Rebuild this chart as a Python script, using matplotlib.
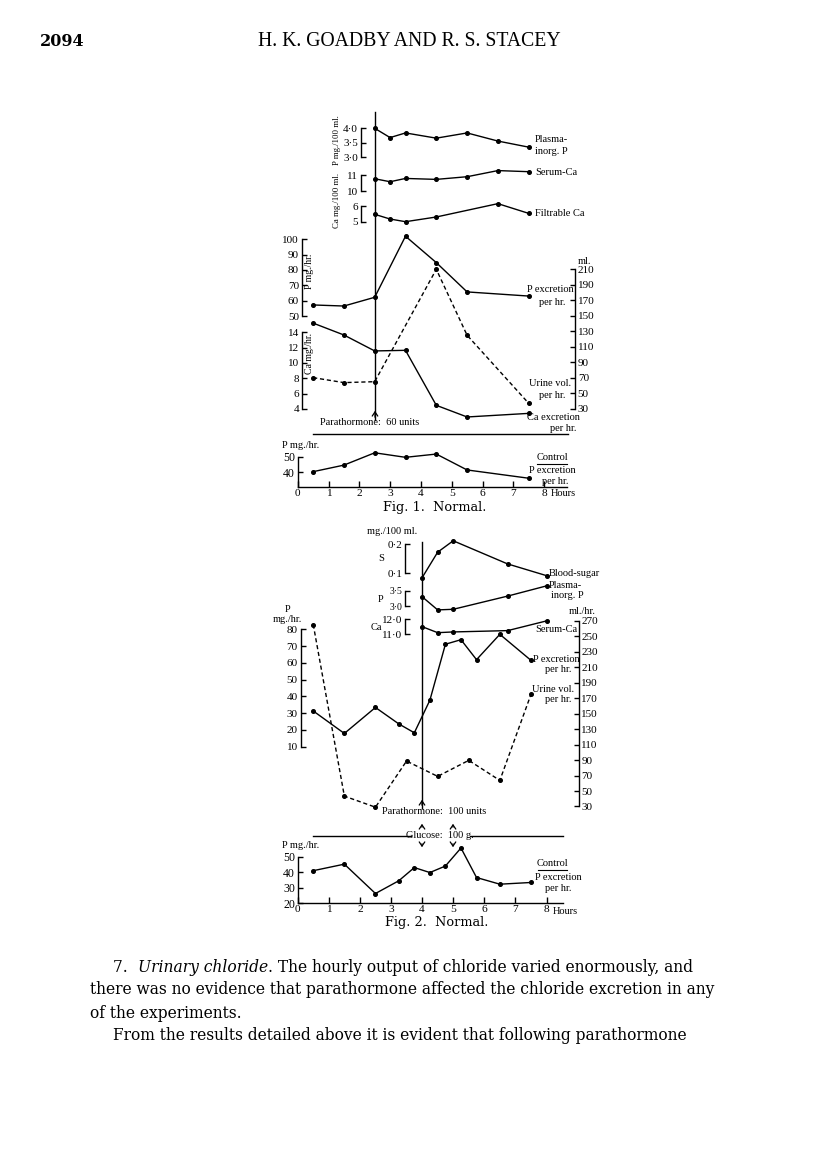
import matplotlib
matplotlib.use("Agg")
import matplotlib.pyplot as plt
from matplotlib.lines import Line2D
from matplotlib.patches import FancyArrowPatch

SERIF = ["Liberation Serif", "DejaVu Serif"]
BODY = ["DejaVu Serif"]
W, H = 816, 1167

# ---------------- Fig. 1 data ----------------
f1_blood_hours = [2.5, 3, 3.5, 4.5, 5.5, 6.5, 7.5]
f1_plasma_p = [4.0, 3.68, 3.84, 3.66, 3.84, 3.56, 3.35]
f1_serum_ca = [10.78, 10.59, 10.80, 10.74, 10.91, 11.30, 11.23]
f1_filt_hours = [2.5, 3, 3.5, 4.5, 6.5, 7.5]
f1_filt_ca = [5.47, 5.17, 5.00, 5.30, 6.15, 5.53]

f1_urine_hours = [0.5, 1.5, 2.5, 3.5, 4.5, 5.5, 7.5]
f1_p_excr = [57.2, 56.5, 62.2, 102.0, 84.8, 65.7, 63.0]
f1_ca_excr = [15.2, 13.65, 11.57, 11.65, 4.48, 2.96, 3.43]
f1_uv_hours = [0.5, 1.5, 2.5, 4.5, 5.5, 7.5]
f1_urine_vol = [70.4, 64.0, 65.2, 210.0, 125.0, 37.3]

f1_ctrl_hours = [0.5, 1.5, 2.5, 3.5, 4.5, 5.5, 7.5]
f1_ctrl_p = [40.4, 44.6, 52.5, 49.6, 51.7, 41.5, 36.2]

# ---------------- Fig. 2 data ----------------
f2_blood_hours = [4, 4.5, 5, 6.75, 8]
f2_blood_sugar = [0.085, 0.172, 0.211, 0.132, 0.092]
f2_plasma_p = [3.31, 2.87, 2.89, 3.33, 3.67]
f2_serum_ca = [11.5, 11.09, 11.14, 11.23, 11.89]

f2_p_hours = [0.5, 1.5, 2.5, 3.25, 3.75, 4.25, 4.75, 5.25, 5.75, 6.5, 7.5]
f2_p_excr = [31.3, 17.9, 33.4, 23.6, 18.3, 37.7, 71.1, 73.8, 61.9, 77.0, 61.5]
f2_uv_hours = [0.5, 1.5, 2.5, 3.5, 4.5, 5.5, 6.5, 7.5]
f2_urine_vol = [265.0, 43.4, 29.1, 88.7, 68.9, 89.6, 63.7, 174.7]

f2_ctrl_hours = [0.5, 1.5, 2.5, 3.25, 3.75, 4.25, 4.75, 5.25, 5.75, 6.5, 7.5]
f2_ctrl_p = [41.0, 45.2, 26.3, 34.5, 43.0, 39.8, 44.0, 55.6, 36.6, 32.3, 33.4]

hour_ticks = [0, 1, 2, 3, 4, 5, 6, 7, 8]

fig = plt.figure(figsize=(W / 100, H / 100), dpi=100)
renderer = fig.canvas.get_renderer()


def fx(px):
    return px / W


def fy(py):
    return 1 - py / H


def txt(x, y, s, ha="left", va="center", size=7.5, **kw):
    kw.setdefault("family", SERIF)
    return fig.text(fx(x), fy(y), s, ha=ha, va=va, fontsize=size, **kw)


def hline(x0, x1, y, lw=1.0):
    fig.add_artist(Line2D([fx(x0), fx(x1)], [fy(y), fy(y)], color="k", lw=lw))


def vline(x, y0, y1, lw=1.0):
    fig.add_artist(Line2D([fx(x), fx(x)], [fy(y0), fy(y1)], color="k", lw=lw))


def arrow(x, ytail, yhead):
    fig.add_artist(FancyArrowPatch(
        (fx(x), fy(ytail)), (fx(x), fy(yhead)), transform=fig.transFigure,
        arrowstyle="->,head_length=3,head_width=2", lw=0.9, color="k",
        mutation_scale=1))


def panel(hx, ymap, ybox, xbox=(240, 620)):
    px0, ppu = hx
    (v1, p1), (v2, p2) = ymap
    top, bot = ybox
    ax = fig.add_axes([fx(xbox[0]), fy(bot), (xbox[1] - xbox[0]) / W, (bot - top) / H])
    ax.set_xlim((xbox[0] - px0) / ppu, (xbox[1] - px0) / ppu)
    s = (p2 - p1) / (v2 - v1)
    ax.set_ylim(v1 + (bot - p1) / s, v1 + (top - p1) / s)
    ax.patch.set_visible(False)
    for sp in ax.spines.values():
        sp.set_visible(False)
    ax.set_xticks([])
    ax.set_yticks([])
    return ax


def yaxis(ax, side, hpos, lo, hi, ticks, labels, size=8, length=3.5):
    sp = ax.spines[side]
    sp.set_visible(True)
    sp.set_position(("data", hpos))
    sp.set_bounds(lo, hi)
    sp.set_linewidth(1.0)
    if side == "right":
        ax.yaxis.tick_right()
    ax.set_yticks(ticks)
    ax.set_yticklabels(labels, fontsize=size, family=SERIF)
    ax.tick_params(axis="y", direction="in", length=length, width=1.0, pad=2)


def xaxis(ax, right, size=8.2):
    sp = ax.spines["bottom"]
    sp.set_visible(True)
    sp.set_bounds(0, right)
    sp.set_linewidth(1.0)
    ax.set_xticks(hour_ticks)
    ax.set_xticklabels([str(h) for h in hour_ticks], fontsize=size, family=SERIF)
    ax.tick_params(axis="x", direction="in", length=4, width=1.0, pad=1.5)


def plot(ax, x, y, dashed=False):
    ax.plot(x, y, color="k", lw=1.0, marker="o", ms=2.6,
            ls=(0, (3, 2)) if dashed else "-", clip_on=False)


# =============== header ===============
txt(40, 41, "2094", size=11.5, weight="bold", family=BODY)
txt(409, 41, "H. K. GOADBY AND R. S. STACEY", ha="center", size=14.2)

# =============== FIG 1 ===============
X1 = (297.7, 30.8)

ax = panel(X1, ((4.0, 128.3), (3.0, 157.3)), (110, 165))
yaxis(ax, "left", 2.05, 3.0, 4.0, [3.0, 3.5, 4.0], ["3·0", "3·5", "4·0"])
plot(ax, f1_blood_hours, f1_plasma_p)
ax = panel(X1, ((11, 175.3), (10, 191.0)), (165, 198))
yaxis(ax, "left", 2.05, 10, 11, [10, 11], ["10", "11"])
plot(ax, f1_blood_hours, f1_serum_ca)
ax = panel(X1, ((6, 206.0), (5, 221.7)), (198, 230))
yaxis(ax, "left", 2.05, 5, 6, [5, 6], ["5", "6"])
plot(ax, f1_filt_hours, f1_filt_ca)

txt(337, 140, "P mg./100 ml.", ha="center", rotation=90, size=6.3)
txt(337, 200, "Ca mg./100 ml.", ha="center", rotation=90, size=6.3)
txt(535, 140, "Plasma-")
txt(535, 151.5, "inorg. P")
txt(535, 172, "Serum-Ca")
txt(535, 213.5, "Filtrable Ca")

ax_p = panel(X1, ((100, 239.3), (50, 316.0)), (235, 420))
yaxis(ax_p, "left", 0.13, 50, 100, [50, 60, 70, 80, 90, 100],
      ["50", "60", "70", "80", "90", "100"])
plot(ax_p, f1_urine_hours, f1_p_excr)
ax_ca = panel(X1, ((14, 332.3), (4, 409.0)), (235, 420))
yaxis(ax_ca, "left", 0.13, 4, 14, [4, 6, 8, 10, 12, 14],
      ["4", "6", "8", "10", "12", "14"])
plot(ax_ca, f1_urine_hours, f1_ca_excr)
ax_v = panel(X1, ((210, 269.3), (30, 409.0)), (235, 420))
yaxis(ax_v, "right", (575 - 297.7) / 30.8, 30, 210, list(range(30, 211, 20)),
      [str(v) for v in range(30, 211, 20)])
plot(ax_v, f1_uv_hours, f1_urine_vol, dashed=True)

txt(309.5, 271, "P mg./hr.", ha="center", rotation=90, size=7)
txt(309.5, 353, "Ca mg./hr.", ha="center", rotation=90, size=7)
txt(584, 261.5, "ml.", ha="center")
txt(550, 289.5, "P excretion", ha="center")
txt(552, 302.5, "per hr.", ha="center")
txt(550, 384, "Urine vol.", ha="center")
txt(552, 395.5, "per hr.", ha="center")
txt(553, 418, "Ca excretion", ha="center")
txt(563, 428.5, "per hr.", ha="center")

vline(375, 112, 420)
arrow(375, 420, 408)
txt(370, 423, "Parathormone:  60 units", ha="center")
hline(312.7, 568, 434)

ax = panel(X1, ((50, 456.7), (40, 472.3)), (440, 486.7))
yaxis(ax, "left", 0, ax.get_ylim()[0], 50, [40, 50], ["40", "50"], size=8.5)
xaxis(ax, 8.73)
plot(ax, f1_ctrl_hours, f1_ctrl_p)
txt(281.5, 445.5, "P mg./hr.")
txt(551, 494, "Hours")
txt(552, 457.5, "Control", ha="center")
hline(537, 567, 463.5, lw=0.8)
txt(552, 470.5, "P excretion", ha="center")
txt(555, 481.5, "per hr.", ha="center")
txt(435, 508, "Fig. 1.  Normal.", ha="center", size=9.3, family=BODY)

# =============== FIG 2 ===============
X2 = (297.7, 31.1)
SX = (405 - 297.7) / 31.1

ax = panel(X2, ((0.2, 544.0), (0.1, 573.3)), (538, 580))
yaxis(ax, "left", SX, 0.1, 0.2, [0.1, 0.2], ["0·1", "0·2"])
plot(ax, f2_blood_hours, f2_blood_sugar)
ax = panel(X2, ((3.5, 591.0), (3.0, 606.0)), (580, 612))
yaxis(ax, "left", SX, 3.0, 3.5, [3.0, 3.5], ["3·0", "3·5"], size=7)
plot(ax, f2_blood_hours, f2_plasma_p)
ax = panel(X2, ((12.0, 619.3), (11.0, 634.0)), (612, 640))
yaxis(ax, "left", SX, 11.0, 12.0, [11.0, 12.0], ["11·0", "12·0"])
plot(ax, f2_blood_hours, f2_serum_ca)

txt(392, 531.5, "mg./100 ml.", ha="center")
txt(381, 558, "S", ha="center")
txt(381, 599.5, "P", ha="center")
txt(376, 627, "Ca", ha="center")
txt(549, 573.5, "Blood-sugar")
txt(549, 585.5, "Plasma-")
txt(551, 595.5, "inorg. P")
txt(556, 630, "Serum-Ca", ha="center")
txt(582, 611.5, "ml./hr.", ha="center")

ax_p2 = panel(X2, ((80, 629.3), (10, 746.7)), (600, 820))
yaxis(ax_p2, "left", (300.5 - 297.7) / 31.1, 10, 80, list(range(10, 81, 10)),
      [str(v) for v in range(10, 81, 10)])
plot(ax_p2, f2_p_hours, f2_p_excr)
ax_v2 = panel(X2, ((270, 620.7), (30, 806.5)), (600, 820))
yaxis(ax_v2, "right", (578.5 - 297.7) / 31.1, 30, 270, list(range(30, 271, 20)),
      [str(v) for v in range(30, 271, 20)])
plot(ax_v2, f2_uv_hours, f2_urine_vol, dashed=True)

txt(288, 609.5, "P", ha="center")
txt(287.5, 620, "mg./hr.", ha="center")
txt(556, 659.5, "P excretion", ha="center")
txt(558, 670, "per hr.", ha="center")
txt(553, 689.5, "Urine vol.", ha="center")
txt(558, 699.5, "per hr.", ha="center")

vline(422, 542, 808)
arrow(422, 808, 797)
txt(434, 812, "Parathormone:  100 units", ha="center")

hline(313, 411, 835.7)
hline(470, 563, 835.7)
txt(440, 835.7, "Glucose:  100 g.", ha="center")
arrow(422, 830, 821)
arrow(453, 830, 821)
arrow(422, 841, 850)
arrow(453, 841, 850)

ax = panel(X2, ((50, 856.7), (20, 903.3)), (850, 903.3))
yaxis(ax, "left", 0, 20, 50, [20, 30, 40, 50], ["20", "30", "40", "50"], size=8.5)
xaxis(ax, 8.53)
plot(ax, f2_ctrl_hours, f2_ctrl_p)
txt(281.5, 845, "P mg./hr.")
txt(553, 911, "Hours")
txt(552, 863.5, "Control", ha="center")
hline(538, 567, 869.5, lw=0.8)
txt(558, 877.5, "P excretion", ha="center")
txt(558, 888.5, "per hr.", ha="center")
txt(437, 922.5, "Fig. 2.  Normal.", ha="center", size=9.3, family=BODY)

# =============== body text ===============
BS = 11.2


def run(x, y, parts):
    for s, style in parts:
        t = txt(x, y, s, size=BS, family=BODY, style=style)
        bb = t.get_window_extent(renderer=renderer)
        x += bb.width


run(113, 967, [("7.  ", "normal"), ("Urinary chloride", "italic"),
               (". The hourly output of chloride varied enormously, and", "normal")])
txt(90, 990, "there was no evidence that parathormone affected the chloride excretion in any",
    size=BS, family=BODY)
txt(90, 1013, "of the experiments.", size=BS, family=BODY)
txt(113, 1036, "From the results detailed above it is evident that following parathormone",
    size=BS, family=BODY)

fig.savefig("out.png", dpi=100, facecolor="white")
